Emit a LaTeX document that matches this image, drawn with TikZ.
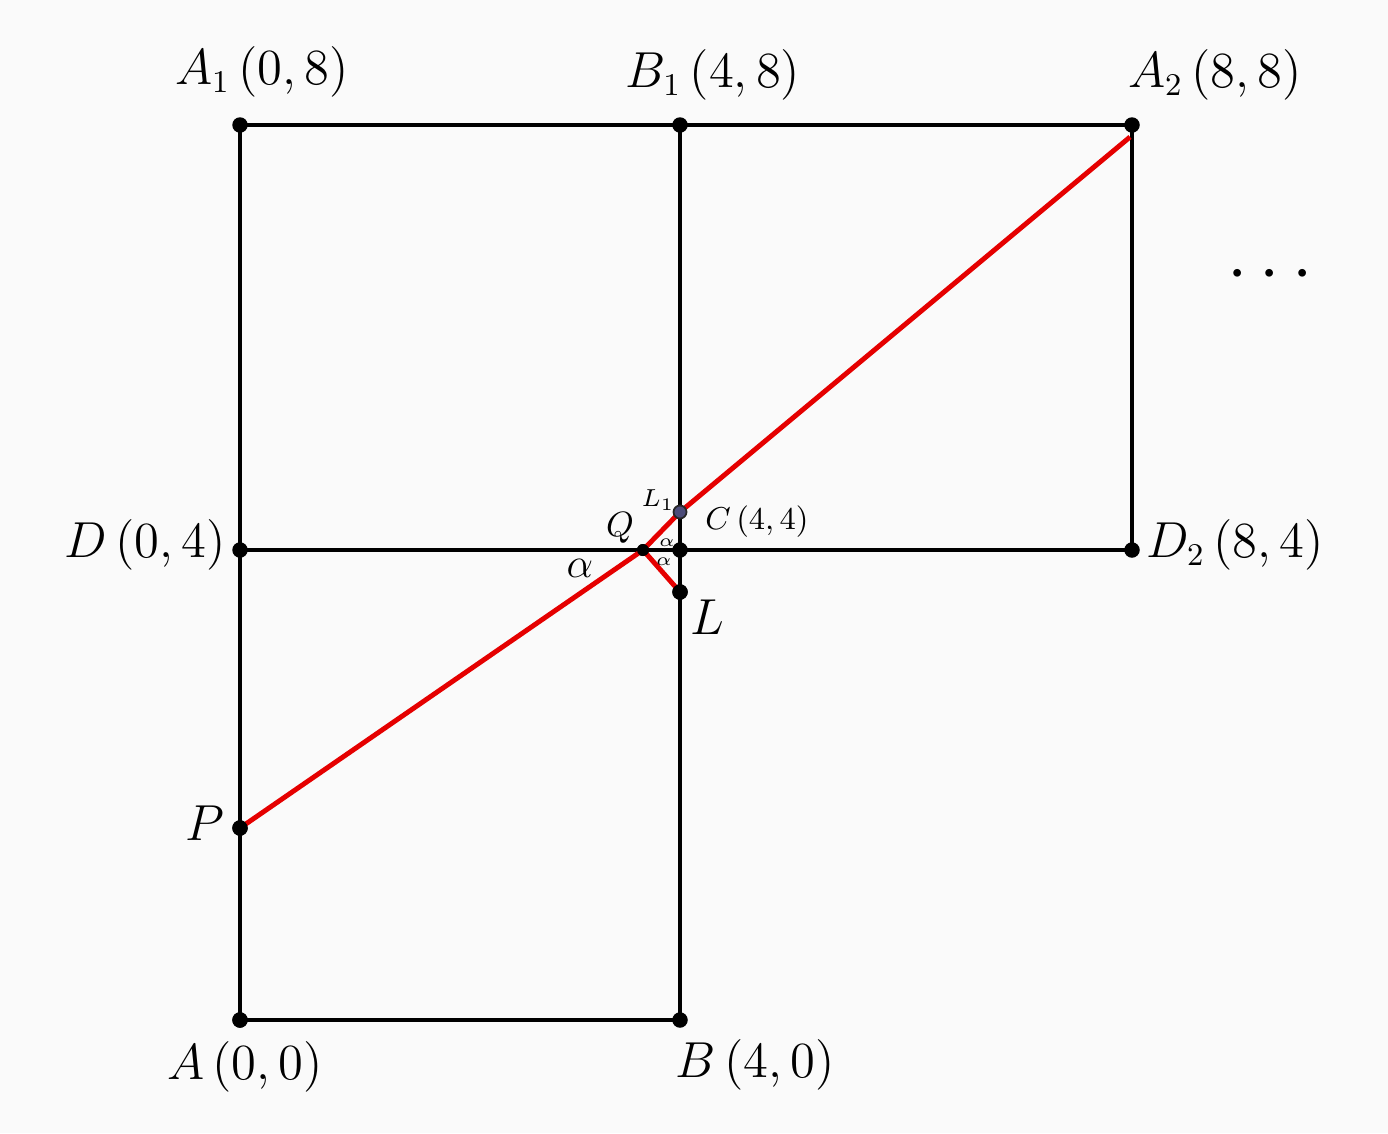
\documentclass[tikz,border=0pt]{standalone}
\usepackage{amsmath,amssymb}
\usepackage{tikz}
\usetikzlibrary{positioning}

\begin{document}
\begin{tikzpicture}[
    dot/.style={circle,fill=black,inner sep=0pt,minimum size=0.155cm},
    lbl/.style={font=\fontsize{13.5}{16}\selectfont},
    sml/.style={font=\small},
    red line/.style={red!90!black,line width=1.4pt}
  ]
    \useasboundingbox[fill=white!98!black] (0,0) rectangle (13.88,11.33);
    % corners of the squares
    \node[dot] (A) at (2.40,1.13) {};
    \node[dot] (B) at (6.80,1.13) {};
    \node[dot] (D) at (2.40,5.83) {};
    \node[dot] (C) at (6.80,5.83) {};
    \node[dot] (A1) at (2.40,10.08) {};
    \node[dot] (B1) at (6.80,10.08) {};
    \node[dot] (A2) at (11.32,10.08) {};
    \node[dot] (D2) at (11.32,5.83) {};
    \node[dot] (P) at (2.40,3.05) {};
    \node[dot,minimum size=0.12cm] (Q) at (6.43,5.83) {};
    \node[dot] (L) at (6.80,5.41) {};
    \coordinate (E) at (11.30,9.96);
    \draw[line width=1.2pt] (A.center) -- (B.center) -- (B1.center) -- (A2.center) -- (D2.center) -- (D.center);
    \draw[line width=1.2pt] (A.center) -- (A1.center) -- (B1.center);
    % the red path
    \draw[red line] (P.center) -- (Q.center) -- (6.80,6.21) coordinate (l1) -- (E);
    \draw[red line] (Q.center) -- (L.center);
    \node[circle,fill=black!75!blue!70,draw=black!85,line width=0.5pt,inner sep=0pt,minimum size=0.13cm] (L1) at (l1) {};
    \node[dot] at (A) {}; \node[dot] at (P) {}; \node[dot] at (L) {}; \node[dot,minimum size=0.12cm] at (Q) {};
    % labels
    \node[lbl] (tA) at (2.45,0.66) {$A\,(0,0)$};
    \node[lbl] (tB) at (7.55,0.68) {$B\,(4,0)$};
    \node[lbl] (tD) at (1.45,5.88) {$D\,(0,4)$};
    \node[lbl] (tA1) at (2.62,10.61) {$A_1\,(0,8)$};
    \node[lbl] (tB1) at (7.13,10.58) {$B_1\,(4,8)$};
    \node[lbl] (tA2) at (12.15,10.58) {$A_2\,(8,8)$};
    \node[lbl] (tD2) at (12.35,5.88) {$D_2\,(8,4)$};
    \node[lbl] (tP) at (2.05,3.10) {$P$};
    \node[lbl] (tL) at (7.07,5.16) {$L$};
    \node[font=\normalsize] (tQ) at (6.20,6.05) {$Q$};
    \node[sml] (tC) at (7.57,6.11) {$C\,(4,4)$};
    \node[font=\scriptsize] (tL1) at (6.58,6.33) {$L_1$};
    \node[font=\large] (ta) at (5.80,5.65) {$\alpha$};
    \node[font=\tiny] (ta1) at (6.67,5.90) {$\alpha$};
    \node[font=\tiny] (ta2) at (6.64,5.71) {$\alpha$};
    \node[font=\huge] (dots) at (12.76,8.58) {$\cdots$};
\end{tikzpicture}
\end{document}
